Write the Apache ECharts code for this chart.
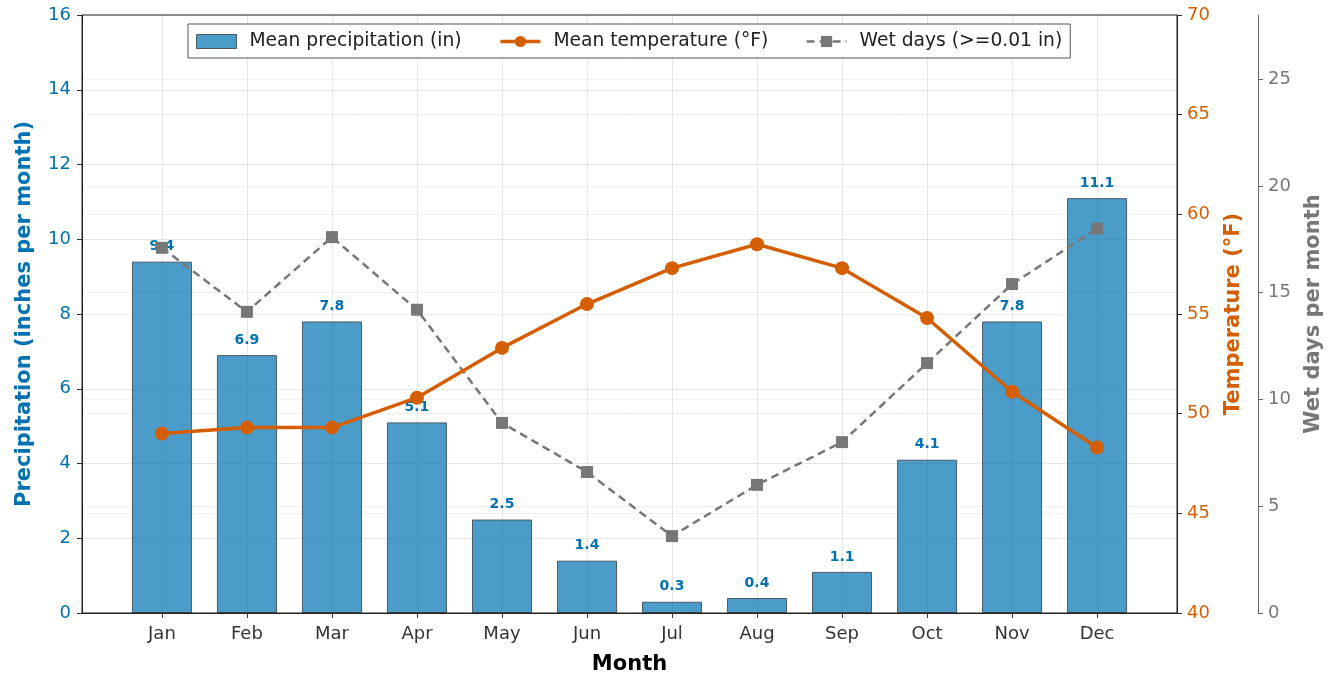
<!DOCTYPE html>
<html><head><meta charset="utf-8">
<script src="https://cdn.jsdelivr.net/npm/echarts@6/dist/echarts.min.js"></script>
<style>html,body{margin:0;padding:0;background:#fff}#c{width:1335px;height:675px}</style>
</head><body><div id="c"></div>
<script>
const months = ['Jan','Feb','Mar','Apr','May','Jun','Jul','Aug','Sep','Oct','Nov','Dec'];
const precipitation = [9.4, 6.9, 7.8, 5.1, 2.5, 1.4, 0.3, 0.4, 1.1, 4.1, 7.8, 11.1];
const temperature = [49.0, 49.3, 49.3, 50.8, 53.3, 55.5, 57.3, 58.5, 57.3, 54.8, 51.1, 48.3];
const wetDays = [17.1, 14.1, 17.6, 14.2, 8.9, 6.6, 3.6, 6.0, 8.0, 11.7, 15.4, 18.0];
const monthIdx = months.map((m, i) => i);

const FONT = 'DejaVu Sans';
const BLUE = '#0072B2', ORANGE = '#D55E00', GRAY = '#777777';

const chart = echarts.init(document.getElementById('c'));
chart.setOption({
  animation: false,
  textStyle: {fontFamily: FONT},
  grid: {left: 82, right: 158, top: 15, bottom: 62, outerBoundsMode: 'none', containLabel: false,
    show: true, borderColor: '#222', borderWidth: 1, backgroundColor: 'transparent', z: 5},
  legend: {
    top: 24, left: 188,
    padding: [8, 8, 7, 8], itemGap: 37,
    borderColor: '#555', borderWidth: 1, borderRadius: 0, backgroundColor: '#fff',
    itemWidth: 40, itemHeight: 14,
    textStyle: {fontSize: 18.7, color: '#222', fontFamily: FONT, padding: [0, 0, 0, 8]},
    data: [
      {name: 'Mean precipitation (in)', icon: 'rect', itemStyle: {borderColor: '#4a5a66', borderWidth: 1}},
      {name: 'Mean temperature (°F)', lineStyle: {width: 3.5}},
      {name: 'Wet days (>=0.01 in)', lineStyle: {width: 2.5}}
    ]
  },
  xAxis: {
    type: 'value', min: -0.94, max: 11.94,
    name: 'Month', nameLocation: 'middle', nameGap: 41,
    nameTextStyle: {fontSize: 21, fontWeight: 'bold', color: '#000', fontFamily: FONT},
    axisLine: {show: true, onZero: false, lineStyle: {color: '#222', width: 1}},
    axisTick: {show: true, customValues: monthIdx, length: 5, lineStyle: {color: '#333'}},
    axisLabel: {customValues: monthIdx, formatter: v => months[Math.round(v)], fontSize: 18, color: '#333', margin: 12, fontFamily: FONT},
    splitLine: {show: true, lineStyle: {color: '#e6e6e6', width: 1}}
  },
  yAxis: [
    {
      type: 'value', min: 0, max: 16, interval: 2, position: 'left',
      name: 'Precipitation (inches per month)', nameLocation: 'middle', nameGap: 47,
      nameTextStyle: {fontSize: 21, fontWeight: 'bold', color: BLUE, fontFamily: FONT},
      axisLine: {show: true, onZero: false, lineStyle: {color: '#222'}},
      axisTick: {show: true, length: 5, lineStyle: {color: '#333'}},
      axisLabel: {fontSize: 18, color: BLUE, margin: 11, fontFamily: FONT},
      splitLine: {show: true, lineStyle: {color: '#e6e6e6'}}
    },
    {
      type: 'value', min: 40, max: 70, interval: 5, position: 'right',
      name: 'Temperature (°F)', nameLocation: 'middle', nameGap: 46, nameRotate: 90,
      nameTextStyle: {fontSize: 21, fontWeight: 'bold', color: ORANGE, fontFamily: FONT},
      axisLine: {show: true, onZero: false, lineStyle: {color: '#222'}},
      axisTick: {show: true, length: 5, lineStyle: {color: '#333'}},
      axisLabel: {fontSize: 18, color: ORANGE, margin: 10, fontFamily: FONT},
      splitLine: {show: true, lineStyle: {color: '#efefef'}}
    },
    {
      type: 'value', min: 0, max: 28, interval: 5, position: 'right', offset: 81,
      name: 'Wet days per month', nameLocation: 'middle', nameGap: 45, nameRotate: 90,
      nameTextStyle: {fontSize: 21, fontWeight: 'bold', color: GRAY, fontFamily: FONT},
      axisLine: {show: true, onZero: false, lineStyle: {color: '#666'}},
      axisTick: {show: true, length: 5, lineStyle: {color: '#666'}},
      axisLabel: {fontSize: 18, color: GRAY, margin: 10, showMaxLabel: false, fontFamily: FONT},
      splitLine: {show: true, lineStyle: {color: '#f0f0f0'}}
    }
  ],
  series: [
    {
      name: 'Mean precipitation (in)', type: 'bar', xAxisIndex: 0, yAxisIndex: 0,
      barWidth: 60,
      data: precipitation.map((v, i) => [i, v]),
      itemStyle: {color: 'rgba(0,114,178,0.7)', borderColor: '#4a5a66', borderWidth: 1},
      label: {show: true, position: 'top', distance: 8, formatter: p => p.value[1].toFixed(1),
        color: BLUE, fontWeight: 'bold', fontSize: 14, fontFamily: FONT},
      z: 2
    },
    {
      name: 'Mean temperature (°F)', type: 'line', xAxisIndex: 0, yAxisIndex: 1,
      data: temperature.map((v, i) => [i, v]),
      symbol: 'circle', symbolSize: 14,
      lineStyle: {color: ORANGE, width: 3.5},
      itemStyle: {color: ORANGE},
      z: 4
    },
    {
      name: 'Wet days (>=0.01 in)', type: 'line', xAxisIndex: 0, yAxisIndex: 2,
      data: wetDays.map((v, i) => [i, v]),
      symbol: 'rect', symbolSize: 12,
      lineStyle: {color: GRAY, width: 2.5, type: [8, 5]},
      itemStyle: {color: GRAY},
      z: 3
    }
  ]
});
</script>
</body></html>
